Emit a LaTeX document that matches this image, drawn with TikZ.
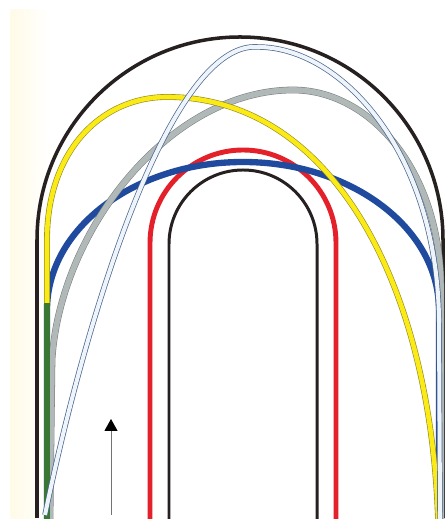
\documentclass[tikz,border=0pt]{standalone}
\usepackage{xcolor}
\definecolor{trBlack}{RGB}{38,32,32}
\definecolor{trRed}{RGB}{228,32,42}
\definecolor{trBlue}{RGB}{32,74,158}
\definecolor{trGreen}{RGB}{58,118,52}
\definecolor{trYellowFill}{RGB}{250,234,22}
\definecolor{trYellowEdge}{RGB}{150,138,36}
\definecolor{trGrayFill}{RGB}{176,184,184}
\definecolor{trGrayEdge}{RGB}{122,128,128}
\definecolor{trWireEdge}{RGB}{72,102,140}
\definecolor{trWireFill}{RGB}{238,244,250}
\definecolor{trCream}{RGB}{255,251,232}
\usepackage{tikz}
\usetikzlibrary{arrows.meta}
\begin{document}
\begin{tikzpicture}[
    x=0.02cm, y=0.02cm,
    outerrail/.style={draw=trBlack, line width=2pt},
    innerrail/.style={draw=trBlack, line width=1.7pt},
    redrail/.style={draw=trRed, line width=2.8pt},
    bluepath/.style={draw=trBlue, line width=3.6pt},
    greenpath/.style={draw=trGreen, line width=3.6pt},
    yellowpath/.style={draw=trYellowEdge, double=trYellowFill, line width=0.35pt, double distance=2.6pt},
    graypath/.style={draw=trGrayEdge, double=trGrayFill, line width=0.3pt, double distance=3.2pt},
    wirepath/.style={draw=trWireEdge, double=trWireFill, line width=0.4pt, double distance=2.3pt},
    arrow/.style={-{Triangle[width=7.4pt, length=6.8pt, color=black]}, draw=black!55, line width=0.5pt}
  ]
    \useasboundingbox (0,0) rectangle (447,519);
    \fill[white] (0,0) rectangle (447,519);
    \shade[left color=trCream, right color=white] (10,0) rectangle (50,509);

    % rails
    \draw[outerrail] (37,1) -- (37,279) arc[start angle=180, end angle=0, radius=203] -- (443,1);
    \draw[redrail] (150,0) -- (150,276) arc[start angle=180, end angle=0, radius=93] -- (336,0);
    \draw[innerrail] (169,0) -- (169,275) arc[start angle=180, end angle=0, radius=74] -- (317,0);

    % paths
    \draw[bluepath] (439,0) -- (439,209) arc[start angle=0, end angle=180, x radius=196, y radius=148] -- (47,0);
    \draw[graypath] (50,0) -- (52,159) .. controls (60,289) and (170,429) .. (293,429)
      .. controls (370,429) and (441,349) .. (441,229) -- (441,0);
    \draw[yellowpath] (47,214) -- (47,279) .. controls (47,368) and (101,422) .. (167,422)
      .. controls (330,422) and (430,239) .. (438,0);
    \draw[greenpath] (47,0) -- (47,216);
    \draw[wirepath] (45,4) .. controls (85,199) and (170,479) .. (258,472)
      .. controls (340,472) and (437,369) .. (439,199) -- (440,0);

    \coordinate (tail) at (111,4);
    \coordinate (head) at (111,100);
    \draw[arrow] (tail) -- (head);
  \end{tikzpicture}
\end{document}
